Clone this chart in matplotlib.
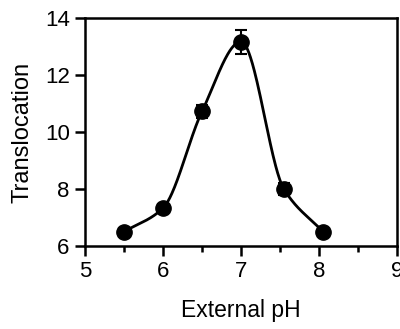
import numpy as np
import matplotlib.pyplot as plt
from matplotlib.ticker import MultipleLocator

plt.rcParams['font.family'] = ['Liberation Sans', 'DejaVu Sans']

# datos
ph = [5.5, 6.0, 6.5, 7.0, 7.55, 8.05]
translocation = [6.5, 7.33, 10.72, 13.17, 8.0, 6.5]
err = [0.12, 0.15, 0.22, 0.42, 0.2, 0.1]


# interpolacion monotona (pchip) a traves de los puntos
def pchip(x, y, n=300):
    x = np.asarray(x, float)
    y = np.asarray(y, float)
    h = np.diff(x)
    d = np.diff(y) / h
    m = np.zeros(len(x))
    for i in range(1, len(x) - 1):
        if d[i - 1] * d[i] > 0:
            w1 = 2 * h[i] + h[i - 1]
            w2 = h[i] + 2 * h[i - 1]
            m[i] = (w1 + w2) / (w1 / d[i - 1] + w2 / d[i])
    m[0] = d[0]
    m[-1] = d[-1]
    xs = np.linspace(x[0], x[-1], n)
    idx = np.clip(np.searchsorted(x, xs) - 1, 0, len(x) - 2)
    t = (xs - x[idx]) / h[idx]
    h00 = 2 * t**3 - 3 * t**2 + 1
    h10 = t**3 - 2 * t**2 + t
    h01 = -2 * t**3 + 3 * t**2
    h11 = t**3 - t**2
    ys = h00 * y[idx] + h10 * h[idx] * m[idx] + h01 * y[idx + 1] + h11 * h[idx] * m[idx + 1]
    return xs, ys


fig = plt.figure(figsize=(4, 3.29), dpi=100)
ax = fig.add_axes([0.2125, 0.2523, 0.78, 0.693])

xs, ys = pchip(ph, translocation)
ax.plot(xs, ys, color='black', lw=2, zorder=2)
ax.errorbar(ph, translocation, yerr=err, fmt='o', color='black', ms=11,
            capsize=4, elinewidth=1.5, capthick=1.5, zorder=3)

ax.set_xlim(5, 9)
ax.set_ylim(6, 14)
ax.xaxis.set_major_locator(MultipleLocator(1))
ax.xaxis.set_minor_locator(MultipleLocator(0.5))
ax.yaxis.set_major_locator(MultipleLocator(2))
ax.tick_params(axis='both', which='major', direction='out', length=7, width=1.8,
               labelsize=16, pad=4)
ax.tick_params(axis='x', which='minor', direction='out', length=4, width=1.8)
for s in ax.spines.values():
    s.set_linewidth(1.8)

ax.set_xlabel('External pH', fontsize=16.5, labelpad=12)
ax.set_ylabel('Translocation', fontsize=17, labelpad=8)

fig.savefig('out.png', dpi=100)
